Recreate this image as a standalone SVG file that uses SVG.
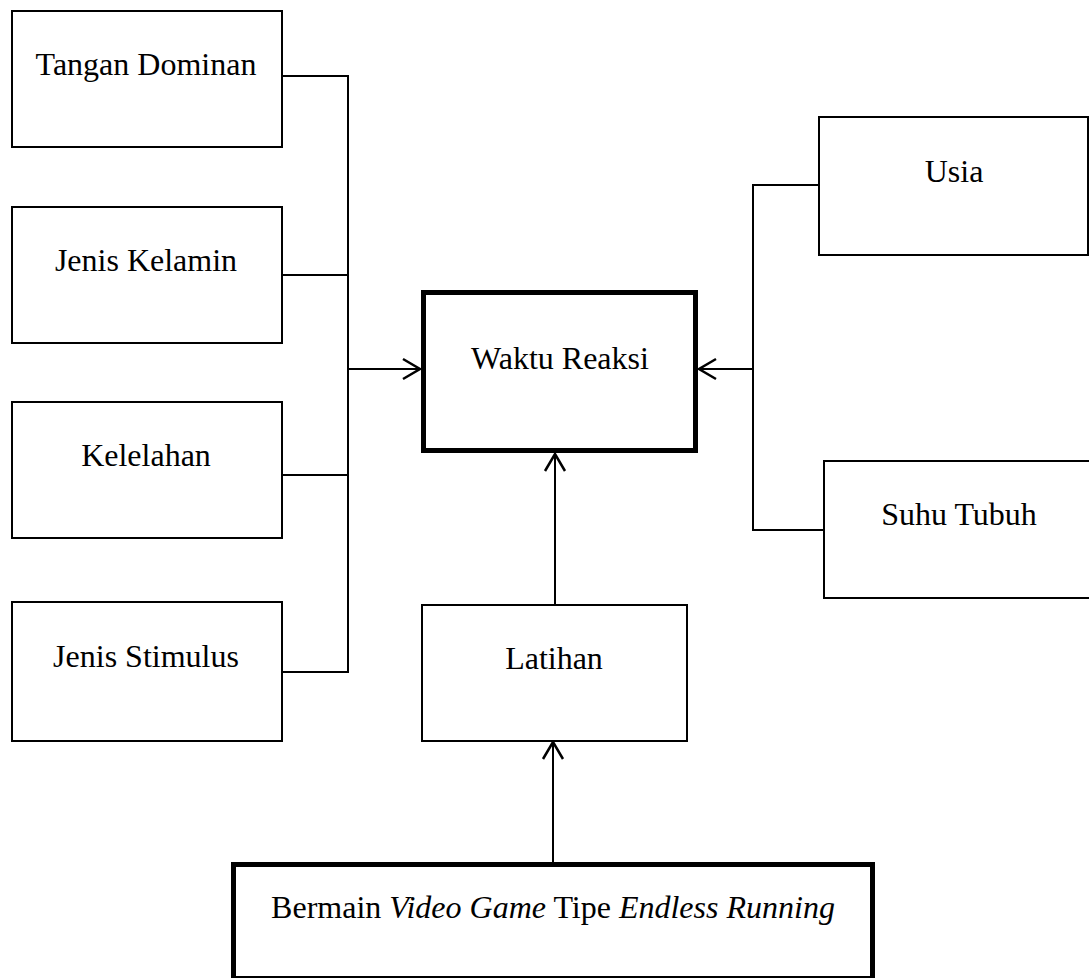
<svg xmlns="http://www.w3.org/2000/svg" width="1089" height="978" viewBox="0 0 1089 978">
<defs>
<style>
.box{fill:#fff;stroke:#000;stroke-width:2}
.bold{fill:#fff;stroke:#000;stroke-width:5}
.lbl{font-family:"Liberation Serif","Times New Roman",serif;font-size:32px;fill:#000;text-anchor:middle}
.con{fill:none;stroke:#000;stroke-width:2}
.arr{fill:none;stroke:#000;stroke-width:2;marker-end:url(#chev)}
</style>
<marker id="chev" markerUnits="userSpaceOnUse" markerWidth="24" markerHeight="24" viewBox="-20 -12 24 24" refX="0" refY="0" orient="auto" overflow="visible">
<path d="M-17,-10 L0,0 L-17,10" fill="none" stroke="#000" stroke-width="2.5"/>
</marker>
</defs>
<rect width="1089" height="978" fill="#fff"/>
<g id="connectors">
<path class="con" d="M282,76 H348 V672 H282"/>
<path class="con" d="M282,275 H348"/>
<path class="con" d="M282,475 H348"/>
<path class="arr" d="M348,369 H420"/>
<path class="con" d="M819,185 H753 V530 H824"/>
<path class="arr" d="M753,369 H699"/>
<path class="arr" d="M555,605 V454"/>
<path class="arr" d="M553,862 V742"/>
</g>
<g id="n-tangan"><rect class="box" x="12" y="11" width="270" height="136"/><text class="lbl" x="146" y="75">Tangan Dominan</text></g>
<g id="n-kelamin"><rect class="box" x="12" y="207" width="270" height="136"/><text class="lbl" x="146" y="271">Jenis Kelamin</text></g>
<g id="n-kelelahan"><rect class="box" x="12" y="402" width="270" height="136"/><text class="lbl" x="146" y="466">Kelelahan</text></g>
<g id="n-stimulus"><rect class="box" x="12" y="602" width="270" height="139"/><text class="lbl" x="146" y="667">Jenis Stimulus</text></g>
<g id="n-waktu"><rect class="bold" x="423.5" y="292.5" width="272" height="158"/><text class="lbl" x="560" y="369">Waktu Reaksi</text></g>
<g id="n-usia"><rect class="box" x="819" y="117" width="269" height="138"/><text class="lbl" x="954" y="182">Usia</text></g>
<g id="n-suhu"><rect class="box" x="824" y="461" width="300" height="137"/><text class="lbl" x="959" y="525">Suhu Tubuh</text></g>
<g id="n-latihan"><rect class="box" x="422" y="605" width="265" height="136"/><text class="lbl" x="554" y="669">Latihan</text></g>
<g id="n-bermain"><rect class="bold" x="233.5" y="864.5" width="639" height="114"/><text class="lbl" x="553" y="918">Bermain <tspan font-style="italic">Video Game</tspan> Tipe <tspan font-style="italic">Endless Running</tspan></text></g>
</svg>
